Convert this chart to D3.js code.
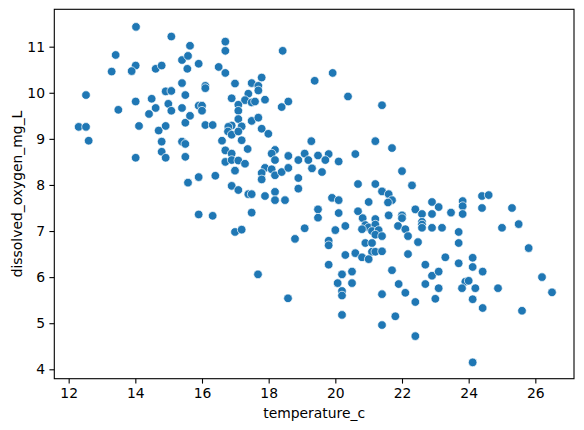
<!DOCTYPE html>
<html>
<head>
<meta charset="utf-8">
<script src="https://cdn.jsdelivr.net/npm/d3@7"></script>
<style>
  body { margin: 0; background: #fff; }
  text { font-family: "DejaVu Sans", sans-serif; }
</style>
</head>
<body>
<div id="scatter"></div>
<script>
// data
var temperature = [
  14.02, 15.08, 13.41, 14.01, 13.89, 13.29, 14.61, 14.79, 15.40, 15.58,
  15.64, 15.56, 15.40, 12.52, 14.91, 15.08, 15.50, 14.01, 14.49, 14.99,
  13.49, 14.61, 15.08, 15.40, 14.41, 12.30, 12.52, 14.11, 14.70, 14.91,
  15.50, 15.64, 12.60, 14.79, 15.40,
  15.50, 14.79, 14.01, 14.91, 15.50, 15.58,
  16.70, 16.70, 18.42, 15.90, 16.50, 16.70, 19.38, 16.99, 16.10, 16.10,
  17.49, 17.79, 17.69, 17.69, 17.39, 16.89, 17.29, 17.49, 17.59, 17.89,
  18.59, 18.39, 15.90, 16.00, 16.00, 17.09, 17.09, 17.09, 17.49, 17.69,
  16.10, 16.32, 16.89, 16.79, 17.19, 17.79, 17.99, 16.78, 16.89, 17.09,
  16.60, 17.19, 19.28,
  16.70, 16.89, 17.37, 18.19, 18.09, 19.08, 19.48, 16.70, 16.89, 17.09,
  17.29, 18.19, 18.59, 18.89, 19.19, 16.99, 17.89, 17.79, 18.09, 18.19,
  18.39, 18.59, 19.30, 17.79, 18.89, 16.40, 15.90, 16.89, 17.09, 17.39,
  17.49, 17.89, 18.19, 18.19, 18.49, 18.89, 15.90, 16.32, 17.49, 16.99,
  17.19, 18.79, 19.08, 19.48, 19.48,
  17.68, 18.58,
  19.92, 20.38, 21.40,
  21.20, 21.70, 19.80, 19.70, 20.10, 20.60, 19.60, 22.00, 20.68, 21.20,
  22.30, 21.40, 21.60, 21.70, 21.58, 19.90, 20.10, 21.00, 22.90, 23.10,
  22.40, 20.10, 20.68, 20.82, 21.20, 21.60, 22.00, 22.00, 22.60, 22.90,
  23.47, 22.60, 22.60, 22.60, 22.90, 23.20, 20.30, 20.00, 20.90, 21.00,
  21.20, 20.80, 21.10, 21.30, 21.20, 21.40, 21.88, 22.10, 22.18, 19.80,
  19.80, 20.90, 21.10, 22.48, 21.10, 21.20, 21.40, 20.60, 20.30, 20.80,
  21.00, 22.18, 23.30, 19.80, 22.70,
  20.20, 20.50, 21.70, 22.90, 23.10, 20.07, 20.50, 21.90, 22.70, 23.10,
  20.20, 20.20, 21.40, 22.10, 23.00, 22.40, 20.20, 21.80, 21.40, 22.40,
  24.40, 24.60, 23.82, 23.82, 23.82, 24.40, 25.30, 25.50, 25.00, 23.70,
  23.70, 25.80, 24.12, 23.70, 24.12,
  24.42, 26.20, 23.90, 24.00, 23.80, 24.20, 24.88, 26.50, 24.12, 24.42,
  25.60, 24.12
];

var oxygen = [
  11.43, 11.22, 10.82, 10.59, 10.47, 10.46, 10.52, 10.59, 10.71, 10.80,
  11.02, 10.52, 10.21, 9.95, 10.03, 10.04, 9.95, 9.81, 9.87, 9.76,
  9.63, 9.67, 9.61, 9.67, 9.54, 9.26, 9.26, 9.28, 9.18, 9.28,
  9.35, 9.50, 8.96, 8.94, 8.94,
  8.89, 8.72, 8.59, 8.59, 8.61, 8.05,
  11.11, 10.91, 10.91, 10.63, 10.56, 10.43, 10.26, 10.20, 10.15, 10.10,
  10.21, 10.33, 10.15, 10.05, 9.98, 9.88, 9.84, 9.79, 9.81, 9.85,
  9.81, 9.69, 9.72, 9.72, 9.61, 9.74, 9.61, 9.43, 9.39, 9.46,
  9.30, 9.30, 9.29, 9.26, 9.27, 9.22, 9.11, 9.16, 9.09, 9.16,
  8.96, 8.97, 8.95,
  8.75, 8.68, 8.78, 8.76, 8.68, 8.68, 8.64, 8.50, 8.54, 8.53,
  8.46, 8.54, 8.63, 8.54, 8.54, 8.31, 8.37, 8.26, 8.34, 8.21,
  8.28, 8.37, 8.36, 8.12, 8.15, 8.20, 8.17, 7.98, 7.89, 7.80,
  7.80, 7.76, 7.85, 7.67, 7.67, 7.92, 7.36, 7.33, 7.40, 6.98,
  7.03, 6.83, 7.06, 7.47, 7.29,
  6.06, 5.54,
  10.43, 9.92, 9.73,
  8.95, 8.80, 8.67, 8.54, 8.51, 8.67, 8.28, 8.30, 8.02, 8.02,
  7.99, 7.86, 7.80, 7.67, 7.62, 7.72, 7.67, 7.63, 7.63, 7.52,
  7.47, 7.39, 7.43, 7.28, 7.26, 7.34, 7.34, 7.28, 7.37, 7.37,
  7.40, 7.20, 7.14, 7.07, 7.07, 7.07, 7.11, 7.02, 7.13, 7.08,
  7.14, 7.04, 7.00, 7.02, 6.92, 6.89, 7.11, 7.04, 6.89, 6.79,
  6.69, 6.74, 6.74, 6.76, 6.55, 6.55, 6.56, 6.52, 6.48, 6.43,
  6.39, 6.50, 6.43, 6.27, 6.27,
  6.06, 6.12, 6.15, 6.03, 6.12, 5.87, 5.87, 5.85, 5.85, 5.76,
  5.70, 5.60, 5.63, 5.66, 5.53, 5.46, 5.18, 5.15, 4.96, 4.72,
  7.76, 7.78, 7.65, 7.54, 7.37, 7.50, 7.50, 7.15, 7.07, 6.98,
  6.74, 6.63, 6.42, 6.30, 6.22,
  6.12, 6.00, 5.90, 5.92, 5.76, 5.76, 5.76, 5.67, 5.52, 5.33,
  5.27, 4.15
];

var xTicks = [12, 14, 16, 18, 20, 22, 24, 26];
var yTicks = [4, 5, 6, 7, 8, 9, 10, 11];

var svgWidth = 584;
var svgHeight = 430;

var margin = { top: 9.3, right: 10, bottom: 51.3, left: 54.3 };
var width = svgWidth - margin.left - margin.right;
var height = svgHeight - margin.top - margin.bottom;

var svg = d3.select("#scatter")
  .append("svg")
  .attr("width", svgWidth)
  .attr("height", svgHeight);

var chartGroup = svg.append("g")
  .attr("transform", `translate(${margin.left}, ${margin.top})`);

var points = temperature.map(function(t, i) {
  return { temperature_c: t, dissolved_oxygen_mg_L: oxygen[i] };
});

var xScale = d3.scaleLinear()
  .domain([11.569, 27.16])
  .range([0, width]);

var yScale = d3.scaleLinear()
  .domain([3.796, 11.811])
  .range([height, 0]);

var bottomAxis = d3.axisBottom(xScale)
  .tickValues(xTicks)
  .tickFormat(d3.format("d"))
  .tickSizeInner(4.9)
  .tickSizeOuter(0)
  .tickPadding(4.4);

var leftAxis = d3.axisLeft(yScale)
  .tickValues(yTicks)
  .tickFormat(d3.format("d"))
  .tickSizeInner(4.9)
  .tickSizeOuter(0)
  .tickPadding(4.4);

// points
chartGroup.selectAll("circle")
  .data(points)
  .enter()
  .append("circle")
  .attr("cx", d => xScale(d.temperature_c))
  .attr("cy", d => yScale(d.dissolved_oxygen_mg_L))
  .attr("r", 4.3)
  .attr("fill", "#1f77b4")
  .attr("stroke", "#ffffff")
  .attr("stroke-width", 0.7);

// axes
var gx = chartGroup.append("g")
  .attr("transform", `translate(0, ${height})`)
  .call(bottomAxis);

var gy = chartGroup.append("g")
  .call(leftAxis);

[gx, gy].forEach(function(g) {
  g.select(".domain").remove();
  g.selectAll(".tick line").attr("stroke", "#000").attr("stroke-width", 1.1);
  g.selectAll(".tick text")
    .attr("fill", "#000")
    .style("font-size", "13.9px")
    .style("font-family", "'DejaVu Sans', sans-serif");
});

// frame
chartGroup.append("rect")
  .attr("x", 0)
  .attr("y", 0)
  .attr("width", width)
  .attr("height", height)
  .attr("fill", "none")
  .attr("stroke", "#000")
  .attr("stroke-width", 1.1);

// axis labels
chartGroup.append("text")
  .attr("x", width / 2)
  .attr("y", height + 39)
  .attr("text-anchor", "middle")
  .style("font-size", "13.9px")
  .text("temperature_c");

chartGroup.append("text")
  .attr("transform", "rotate(-90)")
  .attr("x", -height / 2)
  .attr("y", -margin.left + 22)
  .attr("text-anchor", "middle")
  .style("font-size", "13.9px")
  .text("dissolved_oxygen_mg_L");
</script>
</body>
</html>
